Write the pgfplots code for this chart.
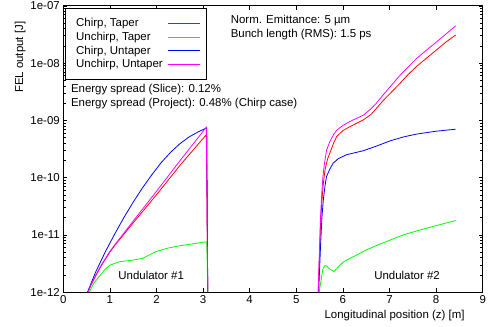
\documentclass[border=0pt]{standalone}
\usepackage{fontspec}
\setmainfont{Liberation Sans}
\usepackage{pgfplots}
\pgfplotsset{compat=1.18}

\definecolor{gpred}{RGB}{255,0,0}
\definecolor{gpgreen}{RGB}{0,255,0}
\definecolor{gpblue}{RGB}{0,0,255}
\definecolor{gpmag}{RGB}{255,0,255}

\begin{document}
\begin{tikzpicture}
\begin{axis}[
  at={(0,0)}, anchor=south west,
  scale only axis,
  width=419.7bp, height=286.5bp,
  ymode=log,
  xmin=0, xmax=9,
  ymin=1e-12, ymax=1e-7,
  xtick={0,1,...,9},
  ytick={1e-12,1e-11,1e-10,1e-9,1e-8,1e-7},
  yticklabels={1e-12,1e-11,1e-10,1e-09,1e-08,1e-07},
  tick align=inside,
  major tick length=4bp,
  minor tick length=2.5bp,
  tick style={black, line width=0.6pt},
  axis line style={line width=0.8pt},
  /pgf/number format/assume math mode=true,
  tick label style={font=\fontsize{11.5}{13}\selectfont},
  label style={font=\fontsize{11.5}{13}\selectfont},
  xlabel={Longitudinal position (z) [m]},
  ylabel={FEL output [J]},
  xlabel style={at={(axis description cs:0.79,-0.083)}, anchor=center},
  ylabel style={at={(axis description cs:-0.103,0.82)}, anchor=center},
  legend cell align=left,
  legend plot pos=right,
  legend image code/.code={\path (0bp,0bp) -- (32bp,0bp); \draw[#1] (8bp,0bp) -- (32bp,0bp);},
  legend style={
    at={(rel axis cs:0.004,0.991)}, anchor=north west,
    draw=black, line width=0.6pt,
    font=\fontsize{11.5}{13}\selectfont,
    row sep=-0.2bp,
    inner xsep=6bp, inner ysep=8bp,
    nodes={inner xsep=5bp},
  },
  every axis plot/.append style={line width=0.8pt},
]
% Undulator #1
\addplot[gpred, mark=none] coordinates {
(0.53,1e-12) (0.6,1.35e-12) (0.7,1.95e-12) (0.8,2.75e-12) (0.9,3.72e-12)
(1.0,5.01e-12) (1.11,6.61e-12) (1.5,1.62e-11) (2.0,5.01e-11) (2.5,1.62e-10)
(3.07,5.62e-10) (3.1,1e-12)};
\addlegendentry{Chirp, Taper}
\addplot[gpgreen, mark=none] coordinates {
(0.56,1e-12) (0.65,1.41e-12) (0.8,2.00e-12) (0.9,2.51e-12) (1.0,2.95e-12)
(1.2,3.39e-12) (1.5,3.63e-12) (1.7,3.89e-12) (1.9,4.68e-12) (2.0,5.13e-12)
(2.25,5.89e-12) (2.5,6.46e-12) (2.75,6.92e-12) (3.08,7.59e-12) (3.1,1e-12)};
\addlegendentry{Unchirp, Taper}
\addplot[gpblue, mark=none] coordinates {
(0.52,1e-12) (0.7,2.29e-12) (0.9,5.01e-12) (1.1,1.02e-11) (1.3,2.00e-11)
(1.5,3.72e-11) (1.7,6.61e-11) (1.9,1.12e-10) (2.1,1.82e-10) (2.3,2.75e-10)
(2.5,3.89e-10) (2.7,5.13e-10) (2.9,6.31e-10) (3.08,7.41e-10) (3.1,1e-12)};
\addlegendentry{Chirp, Untaper}
\addplot[gpmag, mark=none] coordinates {
(0.53,1e-12) (0.6,1.38e-12) (0.7,2.00e-12) (0.8,2.82e-12) (0.9,3.80e-12)
(1.0,5.13e-12) (1.11,6.76e-12) (1.5,1.74e-11) (2.0,5.75e-11) (2.5,1.95e-10)
(3.07,7.59e-10) (3.1,1e-12)};
\addlegendentry{Unchirp, Untaper}
% Undulator #2
\addplot[gpred, mark=none, forget plot] coordinates {
(5.47,1e-12) (5.5,5.01e-12) (5.52,1.58e-11) (5.55,3.98e-11) (5.58,7.94e-11)
(5.62,1.41e-10) (5.67,2.09e-10) (5.72,2.69e-10) (5.8,3.98e-10) (5.87,5.25e-10)
(6.0,6.61e-10) (6.15,7.76e-10) (6.44,1.02e-9) (6.6,1.26e-9) (6.72,1.62e-9)
(6.87,2.24e-9) (7.05,3.16e-9) (7.23,4.47e-9) (7.4,6.31e-9) (7.58,8.71e-9)
(7.8,1.23e-8) (8.01,1.70e-8) (8.2,2.29e-8) (8.42,3.09e-8)};
\addplot[gpgreen, mark=none, forget plot] coordinates {
(5.49,1e-12) (5.53,1.58e-12) (5.57,2.51e-12) (5.61,2.88e-12) (5.65,2.88e-12)
(5.72,2.51e-12) (5.81,2.29e-12) (5.9,2.75e-12) (6.0,3.31e-12) (6.08,3.63e-12)
(6.3,4.47e-12) (6.51,5.50e-12) (6.8,6.92e-12) (7.08,8.51e-12) (7.3,1.00e-11)
(7.58,1.17e-11) (8.0,1.45e-11) (8.42,1.78e-11)};
\addplot[gpblue, mark=none, forget plot] coordinates {
(5.48,1e-12) (5.52,6.31e-12) (5.55,2.00e-11) (5.58,4.07e-11) (5.62,7.59e-11)
(5.65,1.05e-10) (5.72,1.41e-10) (5.79,1.78e-10) (5.9,2.14e-10) (6.08,2.51e-10)
(6.44,2.95e-10) (6.72,3.55e-10) (7.01,4.37e-10) (7.3,5.13e-10) (7.58,5.75e-10)
(8.0,6.46e-10) (8.42,7.0e-10)};
\addplot[gpmag, mark=none, forget plot] coordinates {
(5.47,1e-12) (5.5,6.31e-12) (5.52,2.00e-11) (5.545,5.01e-11) (5.57,1.00e-10)
(5.6,1.66e-10) (5.65,3.02e-10) (5.72,4.27e-10) (5.8,5.62e-10) (5.87,6.76e-10)
(6.0,8.13e-10) (6.15,9.55e-10) (6.44,1.23e-9) (6.6,1.58e-9) (6.72,2.00e-9)
(6.87,2.82e-9) (7.05,4.17e-9) (7.23,6.17e-9) (7.4,8.51e-9) (7.58,1.20e-8)
(7.8,1.70e-8) (8.01,2.34e-8) (8.2,3.16e-8) (8.42,4.47e-8)};

\node[anchor=west, font=\fontsize{11.5}{13}\selectfont, inner sep=0pt] at (rel axis cs:0.399,0.950) {Norm. Emittance: 5 µm};
\node[anchor=west, font=\fontsize{11.5}{13}\selectfont, inner sep=0pt] at (rel axis cs:0.399,0.898) {Bunch length (RMS): 1.5 ps};
\node[anchor=west, font=\fontsize{11.5}{13}\selectfont, inner sep=0pt] at (rel axis cs:0.018,0.707) {Energy spread (Slice): 0.12\%};
\node[anchor=west, font=\fontsize{11.5}{13}\selectfont, inner sep=0pt] at (rel axis cs:0.018,0.658) {Energy spread (Project): 0.48\% (Chirp case)};
\node[anchor=west, font=\fontsize{11.5}{13}\selectfont, inner sep=0pt] at (rel axis cs:0.131,0.060) {Undulator \#1};
\node[anchor=west, font=\fontsize{11.5}{13}\selectfont, inner sep=0pt] at (rel axis cs:0.741,0.060) {Undulator \#2};
\end{axis}
\pgfresetboundingbox
\path[use as bounding box] (-63.3bp,-34.7bp) rectangle (426bp,292.3bp);
\end{tikzpicture}
\end{document}
